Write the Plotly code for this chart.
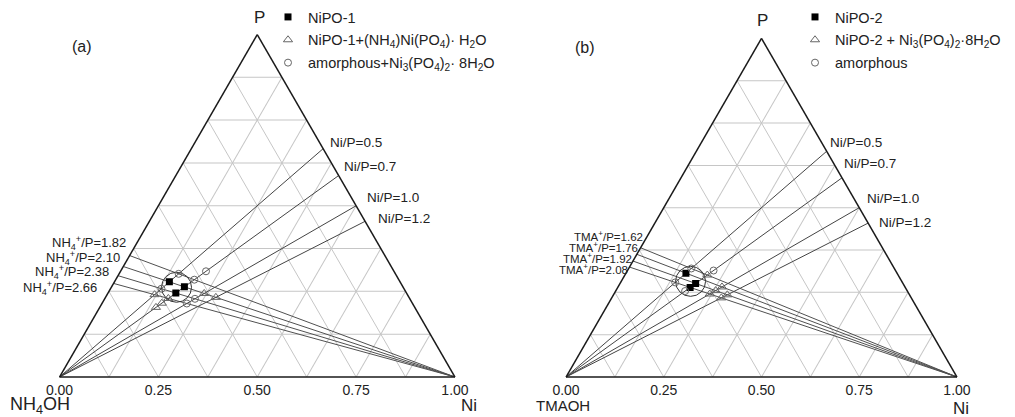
import plotly.graph_objects as go

# ---------------- data ----------------
ni_p_ratios = [0.5, 0.7, 1.0, 1.2]
ni_p_labels = ["Ni/P=0.5", "Ni/P=0.7", "Ni/P=1.0", "Ni/P=1.2"]
nh4_p_ratios = [1.82, 2.10, 2.38, 2.66]
nh4_p_labels = ["NH<sub>4</sub><sup>+</sup>/P=1.82", "NH<sub>4</sub><sup>+</sup>/P=2.10",
                "NH<sub>4</sub><sup>+</sup>/P=2.38", "NH<sub>4</sub><sup>+</sup>/P=2.66"]
tma_p_ratios = [1.62, 1.76, 1.92, 2.08]
tma_p_labels = ["TMA<sup>+</sup>/P=1.62", "TMA<sup>+</sup>/P=1.76",
                "TMA<sup>+</sup>/P=1.92", "TMA<sup>+</sup>/P=2.08"]

# samples as (Ni/P, base/P)
a_nipo1_ni = [0.5, 0.7, 0.7]
a_nipo1_base = [2.10, 2.10, 2.38]
a_mixed_ni = [0.7, 0.7, 0.7, 1.0, 1.2, 0.5]
a_mixed_base = [2.66, 2.94, 3.22, 2.10, 2.10, 2.66]
a_amorph_ni = [0.5, 0.7, 0.7, 0.5, 1.0, 1.0]
a_amorph_base = [1.82, 1.82, 1.54, 2.38, 2.38, 2.66]

b_nipo2_ni = [0.5, 0.7, 0.7]
b_nipo2_base = [1.76, 1.92, 2.08]
b_mixed_ni = [0.7, 1.0, 1.0, 1.2, 1.2, 1.0]
b_mixed_base = [1.62, 1.76, 1.92, 1.92, 2.08, 2.08]
b_amorph_ni = [0.5, 0.7, 0.5, 0.7]
b_amorph_base = [1.62, 1.48, 2.08, 2.24]

tick_labels = ["0.00", "", "0.25", "", "0.50", "", "0.75", "", "1.00"]
tick_b_values = [1, 0.875, 0.75, 0.625, 0.5, 0.375, 0.25, 0.125, 0]

FONT = "Arial, Liberation Sans, sans-serif"
W, H = 1015, 417


def comp(r_ni, r_base):
    s = 1.0 + r_ni + r_base
    return 1.0 / s, r_base / s, r_ni / s  # a=P, b=base, c=Ni


def comps(ni_list, base_list):
    aa, bb, cc = [], [], []
    for rn, rb in zip(ni_list, base_list):
        a, b, c = comp(rn, rb)
        aa.append(a); bb.append(b); cc.append(c)
    return aa, bb, cc


fig = go.Figure()


def add_panel(sub, leg, base_ratios, sq, tri, circ, names):
    # Ni/P lines from base corner
    for r in ni_p_ratios:
        fig.add_trace(go.Scatterternary(
            a=[0, 1 / (1 + r)], b=[1, 0], c=[0, r / (1 + r)], mode="lines",
            line=dict(color="#444444", width=1), showlegend=False,
            hoverinfo="skip", subplot=sub))
    # base/P lines from Ni corner
    for r in base_ratios:
        fig.add_trace(go.Scatterternary(
            a=[0, 1 / (1 + r)], b=[0, r / (1 + r)], c=[1, 0], mode="lines",
            line=dict(color="#505050", width=1), showlegend=False,
            hoverinfo="skip", subplot=sub))
    # highlight circle around the single-phase cluster
    sa, sb, sc = comps(*sq)
    fig.add_trace(go.Scatterternary(
        a=[sum(sa) / len(sa)], b=[sum(sb) / len(sb)], c=[sum(sc) / len(sc)],
        mode="markers", marker=dict(symbol="circle-open", size=30,
                                    color="#333333", line=dict(width=1)),
        showlegend=False, hoverinfo="skip", subplot=sub))
    styles = [
        dict(symbol="square", size=7, color="black"),
        dict(symbol="triangle-up-open", size=8, color="#666666", line=dict(width=1)),
        dict(symbol="circle-open", size=7, color="#666666", line=dict(width=1)),
    ]
    for i, (data, st, nm) in enumerate(zip([sq, tri, circ], styles, names)):
        aa, bb, cc = comps(*data)
        fig.add_trace(go.Scatterternary(
            a=aa, b=bb, c=cc, mode="markers", marker=st, name=nm,
            legend=leg, legendgroup=f"{sub}{i}", subplot=sub))


add_panel("ternary", "legend", nh4_p_ratios,
          (a_nipo1_ni, a_nipo1_base), (a_mixed_ni, a_mixed_base),
          (a_amorph_ni, a_amorph_base),
          ["NiPO-1", "NiPO-1+(NH<sub>4</sub>)Ni(PO<sub>4</sub>)· H<sub>2</sub>O",
           "amorphous+Ni<sub>3</sub>(PO<sub>4</sub>)<sub>2</sub>· 8H<sub>2</sub>O"])
add_panel("ternary2", "legend2", tma_p_ratios,
          (b_nipo2_ni, b_nipo2_base), (b_mixed_ni, b_mixed_base),
          (b_amorph_ni, b_amorph_base),
          ["NiPO-2", "NiPO-2 + Ni<sub>3</sub>(PO<sub>4</sub>)<sub>2</sub>·8H<sub>2</sub>O",
           "amorphous"])

axis_common = dict(linecolor="#1a1a1a", linewidth=1.5, gridcolor="#c6c6c6",
                   gridwidth=1, ticks="", showgrid=True, title=dict(text=""))
a_axis = dict(axis_common, showticklabels=False, tick0=0, dtick=0.125)
c_axis = dict(axis_common, showticklabels=False, tick0=0, dtick=0.125)
b_axis = dict(axis_common, showticklabels=True, tickmode="array",
              tickvals=tick_b_values, ticktext=tick_labels,
              tickfont=dict(family=FONT, size=14, color="#222222"))


def tern(x0, x1, ybot, ytop):
    return dict(domain=dict(x=[x0 / W, x1 / W], y=[(H - ybot) / H, (H - ytop) / H]),
                sum=1, bgcolor="white", aaxis=a_axis, baxis=b_axis, caxis=c_axis)


legend_font = dict(family=FONT, size=14.5, color="#222222")
layout = dict(
    width=W, height=H, margin=dict(l=0, r=0, t=0, b=0),
    paper_bgcolor="white", plot_bgcolor="white",
    font=dict(family=FONT, size=13, color="#222222"),
    ternary=tern(59.5, 455, 377, 34.5),
    ternary2=tern(566, 957, 377, 38.4),
    legend=dict(x=268 / W, y=1 - 1 / H, xanchor="left", yanchor="top",
                bgcolor="rgba(0,0,0,0)", tracegroupgap=1, font=legend_font),
    legend2=dict(x=795 / W, y=1 - 1 / H, xanchor="left", yanchor="top",
                 bgcolor="rgba(0,0,0,0)", tracegroupgap=1, font=legend_font),
)
fig.update_layout(**layout)

ann = []


def px(x, y, text, size=13, xanchor="left"):
    ann.append(dict(x=x / W, y=1 - y / H, xref="paper", yref="paper", text=text,
                    showarrow=False, xanchor=xanchor, yanchor="middle",
                    font=dict(family=FONT, size=size, color="#222222")))


# corner titles and panel labels
px(259, 18, "P", 17, "center")
px(762, 20, "P", 17, "center")
px(40, 405, "NH<sub>4</sub>OH", 18, "center")
px(469, 405, "Ni", 17, "center")
px(563, 405, "TMAOH", 15, "center")
px(961, 408, "Ni", 17, "center")
px(82, 47, "(a)", 16, "center")
px(585, 48, "(b)", 16, "center")

# ratio labels
for (x, y), t in zip([(328, 142), (342, 166), (365, 198), (376, 219)], ni_p_labels):
    px(x, y, t, 13.5)
for (x, y), t in zip([(828, 142), (842, 163), (865, 199), (877, 222)], ni_p_labels):
    px(x, y, t, 13.5)
for (x, y), t in zip([(128, 243), (122, 258), (111, 272), (99, 288)], nh4_p_labels):
    px(x, y, t, 13, "right")
for (x, y), t in zip([(645, 236), (640, 247), (634, 258), (630, 269)], tma_p_labels):
    px(x, y, t, 11.5, "right")

fig.update_layout(annotations=ann)
fig.write_html("out.html", config={"displayModeBar": False},
               post_script="document.body.style.margin='0px';")
